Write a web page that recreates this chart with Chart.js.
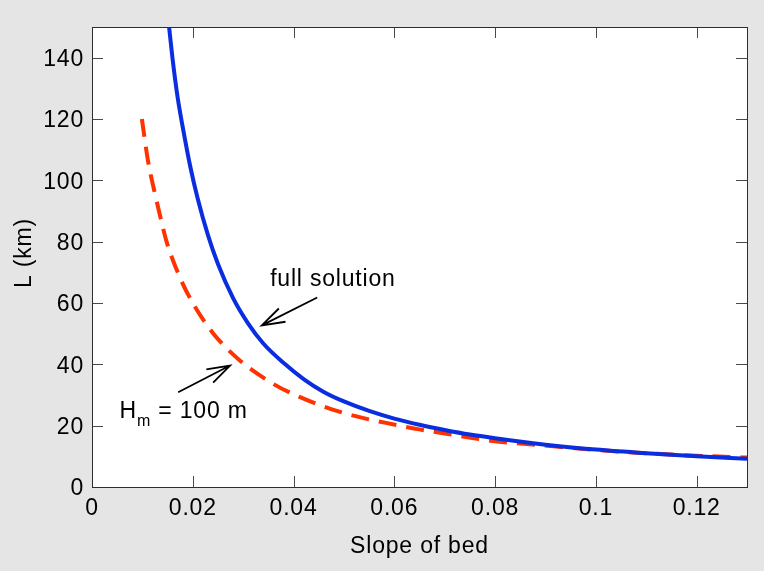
<!DOCTYPE html>
<html>
<head>
<meta charset="utf-8">
<script src="https://cdn.jsdelivr.net/npm/chart.js@4/dist/chart.umd.min.js"></script>
<style>
  html, body { margin: 0; padding: 0; background: #e4e5e4; }
  canvas { display: block; }
</style>
</head>
<body>
<canvas id="chart" width="764" height="571"></canvas>
<script>
// Full solution: glacier length L (km) against bed slope
const slopeFull = [0.0153, 0.0160, 0.0170, 0.0180, 0.0195, 0.0210, 0.0230, 0.0250, 0.0280, 0.0310,
                   0.0340, 0.0380, 0.0420, 0.0460, 0.0500, 0.0550, 0.0600, 0.0650, 0.0700, 0.0750,
                   0.0800, 0.0900, 0.1000, 0.1100, 0.1200, 0.1300];
const lengthFull = [150, 139.5, 127, 117.4, 104.5, 93.9, 82.2, 72.7, 61.6, 53.3,
                    46.8, 40.5, 35.2, 31.0, 27.9, 24.8, 22.3, 20.3, 18.6, 17.1,
                    15.9, 13.8, 12.2, 11.0, 10.0, 9.2];

// Approximation for H_m = 100 m
const slopeApprox = [0.0099, 0.0111, 0.0125, 0.0138, 0.0148, 0.0174, 0.0201, 0.0241, 0.0294, 0.0360,
                     0.0413, 0.0473, 0.0533, 0.0599, 0.0652, 0.0706, 0.0765, 0.0818, 0.0878, 0.1000,
                     0.1100, 0.1200, 0.1300];
const lengthApprox = [120, 106.5, 95.6, 86.5, 80, 68.5, 59.7, 50, 41.2, 33.6,
                      29.3, 25.5, 22.7, 20.4, 18.7, 17.3, 15.7, 14.6, 13.8, 12.1,
                      11.0, 10.2, 9.6];

const xTicks = [0, 0.02, 0.04, 0.06, 0.08, 0.1, 0.12];
const xTickLabels = ['0', '0.02', '0.04', '0.06', '0.08', '0.1', '0.12'];
const yTicks = [0, 20, 40, 60, 80, 100, 120, 140];
const yTickLabels = ['0', '20', '40', '60', '80', '100', '120', '140'];

const xTitle = 'Slope of bed';
const yTitle = 'L (km)';

const FONT = "'Liberation Sans', Arial, Helvetica, sans-serif";
const FONT_SIZE = 23;
const LETTER_SPACING = '0.8px';

function toPoints(xs, ys) {
  return xs.map((x, i) => ({ x: x, y: ys[i] }));
}

// Slightly loose letter spacing for every text drawn on the canvas.
const spacingPlugin = {
  id: 'spacing',
  beforeDraw(chart) { chart.ctx.letterSpacing = LETTER_SPACING; }
};

// White plot area, boxed frame with inward ticks on all four sides,
// axis titles and the two arrowed annotations.
const framePlugin = {
  id: 'frame',
  beforeDatasetsDraw(chart) {
    const { ctx, chartArea: a } = chart;
    ctx.save();
    ctx.fillStyle = '#ffffff';
    ctx.fillRect(a.left, a.top, a.right - a.left, a.bottom - a.top);
    ctx.restore();
  },
  afterDatasetsDraw(chart) {
    const { ctx, chartArea: a, scales } = chart;
    const xs = scales.x, ys = scales.y;
    const tickLen = 11;
    ctx.save();
    ctx.letterSpacing = LETTER_SPACING;
    ctx.lineWidth = 1;
    ctx.strokeStyle = '#4a4a4a';
    ctx.beginPath();
    xTicks.forEach(v => {
      const px = Math.round(xs.getPixelForValue(v)) + 0.5;
      ctx.moveTo(px, a.bottom); ctx.lineTo(px, a.bottom - tickLen);
      ctx.moveTo(px, a.top); ctx.lineTo(px, a.top + tickLen);
    });
    yTicks.forEach(v => {
      const py = Math.round(ys.getPixelForValue(v)) + 0.5;
      ctx.moveTo(a.left, py); ctx.lineTo(a.left + tickLen, py);
      ctx.moveTo(a.right, py); ctx.lineTo(a.right - tickLen, py);
    });
    ctx.stroke();
    ctx.strokeStyle = '#2e2e2e';
    ctx.strokeRect(Math.round(a.left) + 0.5, Math.round(a.top) + 0.5,
                   Math.round(a.right - a.left), Math.round(a.bottom - a.top));

    // axis titles
    ctx.fillStyle = '#000';
    ctx.font = FONT_SIZE + 'px ' + FONT;
    ctx.textAlign = 'center';
    ctx.textBaseline = 'alphabetic';
    ctx.fillText(xTitle, (a.left + a.right) / 2, 553);
    ctx.save();
    ctx.translate(31, 253);
    ctx.rotate(-Math.PI / 2);
    ctx.fillText(yTitle, 0, 0);
    ctx.restore();

    // annotations
    const px = v => xs.getPixelForValue(v);
    const py = v => ys.getPixelForValue(v);
    ctx.textAlign = 'left';
    ctx.fillText('full solution', px(0.03536), py(65.7));

    const hx = px(0.00548), hy = py(22.6);
    ctx.fillText('H', hx, hy);
    let cx = hx + ctx.measureText('H').width;
    ctx.font = '16px ' + FONT;
    ctx.fillText('m', cx, hy + 8);
    cx += ctx.measureText('m').width;
    ctx.font = FONT_SIZE + 'px ' + FONT;
    ctx.fillText(' = 100 m', cx, hy);

    function arrow(x0, y0, x1, y1) {
      const ang = Math.atan2(y0 - y1, x0 - x1);
      const head = 24, spread = 18 * Math.PI / 180;
      ctx.beginPath();
      ctx.moveTo(x0, y0); ctx.lineTo(x1, y1);
      ctx.moveTo(x1 + head * Math.cos(ang - spread), y1 + head * Math.sin(ang - spread));
      ctx.lineTo(x1, y1);
      ctx.lineTo(x1 + head * Math.cos(ang + spread), y1 + head * Math.sin(ang + spread));
      ctx.stroke();
    }
    ctx.strokeStyle = '#000';
    ctx.lineWidth = 1.8;
    arrow(px(0.0447), py(61.8), px(0.0337), py(52.7));
    arrow(px(0.0171), py(30.9), px(0.0274), py(39.6));
    ctx.restore();
  }
};

new Chart(document.getElementById('chart'), {
  type: 'line',
  data: {
    datasets: [
      {
        label: 'full solution',
        data: toPoints(slopeFull, lengthFull),
        borderColor: '#0a2ddf',
        borderWidth: 4,
        pointRadius: 0,
        fill: false,
        cubicInterpolationMode: 'monotone'
      },
      {
        label: 'H_m = 100 m',
        data: toPoints(slopeApprox, lengthApprox),
        borderColor: '#ff3200',
        borderWidth: 4,
        borderDash: [18, 10],
        pointRadius: 0,
        fill: false,
        cubicInterpolationMode: 'monotone'
      }
    ]
  },
  options: {
    responsive: false,
    animation: false,
    events: [],
    layout: { padding: { top: 27, right: 17, left: 0, bottom: 0 } },
    plugins: { legend: { display: false }, tooltip: { enabled: false } },
    scales: {
      x: {
        type: 'linear',
        min: 0,
        max: 0.13,
        afterBuildTicks: s => { s.ticks = xTicks.map(v => ({ value: v })); },
        afterFit: s => { s.height = 84; },
        grid: { display: false, drawTicks: false },
        border: { display: false },
        ticks: {
          padding: 8,
          maxRotation: 0,
          autoSkip: false,
          color: '#000',
          font: { family: FONT, size: FONT_SIZE },
          callback: v => xTickLabels[xTicks.indexOf(v)]
        }
      },
      y: {
        type: 'linear',
        min: 0,
        max: 150,
        afterBuildTicks: s => { s.ticks = yTicks.map(v => ({ value: v })); },
        afterFit: s => { s.width = 92; },
        grid: { display: false, drawTicks: false },
        border: { display: false },
        ticks: {
          padding: 8,
          labelOffset: 2,
          autoSkip: false,
          color: '#000',
          font: { family: FONT, size: FONT_SIZE },
          callback: v => yTickLabels[yTicks.indexOf(v)]
        }
      }
    }
  },
  plugins: [spacingPlugin, framePlugin]
});
</script>
</body>
</html>
